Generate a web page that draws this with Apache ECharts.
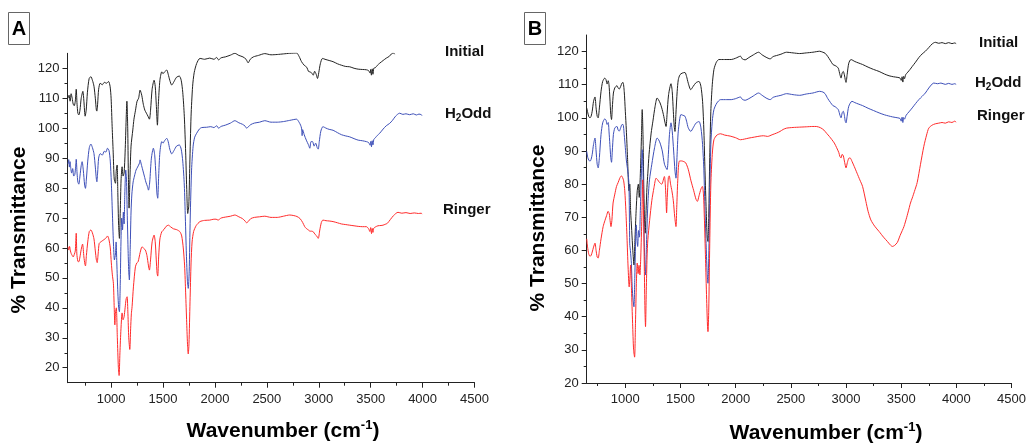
<!DOCTYPE html>
<html><head><meta charset="utf-8">
<script src="https://cdn.jsdelivr.net/npm/echarts@6/dist/echarts.min.js"></script>
<style>html,body{margin:0;padding:0;background:#fff}#c{width:1029px;height:443px}</style>
</head><body><div id="c"></div>
<script>
// ---- axis ticks ----
const xMajor = [1000,1500,2000,2500,3000,3500,4000,4500];
const xMinor = [750,1250,1750,2250,2750,3250,3750,4250];
const yMajor = [20,30,40,50,60,70,80,90,100,110,120];
const yMinor = [25,35,45,55,65,75,85,95,105,115];
const seriesNames = ['Initial','H2Odd','Ringer'];

// ---- Panel A data [wavenumber, %T] ----
const A_initial = [[585,110],[595,111],[605,109],[615,111.5],[625,110],[635,108],[645,107.5],[655,109],[664,113],[672,108],[680,105],[689,104.4],[700,106],[712,110],[728,112.3],[738,109],[750,104],[760,106],[772,112],[788,116.5],[805,117.2],[820,116],[835,114],[848,110],[858,106],[863,105.7],[870,108],[880,113],[895,115],[915,114.5],[935,115.3],[955,115],[975,115.6],[990,114],[1000,110],[1010,100.5],[1020,92],[1030,83],[1042,81.6],[1050,86],[1058,87.7],[1065,78],[1072,68],[1080,63.2],[1088,72],[1096,82.7],[1106,87.1],[1115,84],[1125,85],[1135,92],[1145,103],[1152,109],[1160,100],[1166,85],[1173,73.3],[1182,84],[1192,94],[1209,99.4],[1220,103],[1235,106],[1250,109],[1265,110],[1279,112.7],[1295,111],[1310,108],[1325,106],[1340,105],[1355,104],[1369,103],[1380,106],[1395,113],[1414,116],[1425,114],[1435,108],[1446,101],[1455,108],[1470,116],[1488,118.8],[1500,118.2],[1515,118.8],[1536,119.4],[1550,118],[1565,116],[1584,114.4],[1605,115.5],[1630,117],[1657,117.4],[1675,116],[1690,112],[1705,104],[1718,92],[1728,80],[1738,71.5],[1748,74],[1758,88],[1770,104],[1785,114],[1800,118.5],[1824,121.6],[1856,123.3],[1900,123],[1950,123.4],[1990,123],[2017,123.6],[2035,122.8],[2060,123.5],[2100,123.8],[2150,124.4],[2192,125],[2230,124.3],[2270,123.8],[2300,123],[2320,121.8],[2340,123],[2370,123.8],[2420,124.3],[2480,124.9],[2540,124.5],[2600,124.6],[2660,124.8],[2720,125],[2786,125.1],[2810,124],[2834,122.2],[2860,121],[2885,120.3],[2900,119],[2914,118.8],[2930,118.5],[2947,117.7],[2960,119],[2975,118],[2988,116.6],[3000,118.5],[3015,121.5],[3036,123.3],[3060,123],[3100,122.6],[3138,122.2],[3180,121.5],[3220,121],[3260,120.6],[3298,120.5],[3340,120],[3380,119.7],[3420,119.6],[3459,119.5],[3480,119.2],[3495,118.4],[3500,119.6],[3507,117.7],[3515,119.8],[3522,118],[3530,120],[3545,120.2],[3565,121],[3587,121.7],[3620,122.6],[3651,123.4],[3680,124],[3700,124.8],[3721,125.1],[3730,124.7]];
const A_h2odd = [[585,88],[592,89.5],[598,87],[605,88.8],[612,86.5],[620,85],[630,86.5],[640,84],[650,84.5],[658,87],[664,89.6],[672,85],[680,82],[689,81.3],[700,84],[712,87.5],[721,88.8],[732,86],[745,81],[753,79.9],[762,83],[775,89],[790,93.5],[805,94.7],[820,93.5],[835,91.5],[848,87],[858,83],[863,82.1],[870,85],[880,90],[895,91.5],[915,91],[935,92.3],[950,92],[965,93.3],[980,92.5],[992,89],[1002,82],[1012,72],[1022,62],[1032,56],[1042,58],[1048,62],[1055,55],[1065,45],[1073,40],[1080,38.7],[1088,48],[1095,62],[1102,70],[1110,66],[1118,72],[1125,68],[1132,78],[1141,86],[1148,83],[1155,72],[1163,60],[1170,52],[1176,49.3],[1184,60],[1192,72],[1200,78],[1212,82],[1225,84],[1240,86],[1255,87],[1273,88.3],[1279,89.4],[1290,88],[1305,86],[1320,84],[1335,82],[1350,80.5],[1360,79.3],[1372,82],[1388,90],[1407,93.3],[1420,91],[1432,84],[1442,78],[1449,76.6],[1458,84],[1470,92],[1488,95.5],[1500,95],[1515,95.8],[1536,96.6],[1550,95.5],[1565,93],[1584,91.4],[1605,92.5],[1630,94],[1657,94.4],[1675,93],[1690,89],[1705,81],[1715,70],[1725,58],[1735,49],[1743,46.5],[1752,52],[1762,70],[1775,86],[1790,94],[1805,97],[1824,98.3],[1850,99.7],[1872,100.2],[1920,100.3],[1960,100.5],[1990,100.2],[2017,100.8],[2035,100],[2060,100.6],[2100,101],[2150,101.7],[2192,102.5],[2230,101.8],[2265,101.3],[2290,100.7],[2305,100],[2320,100.4],[2345,101.2],[2380,101.7],[2430,102],[2480,102.5],[2540,102],[2600,102],[2660,102.2],[2720,102.6],[2786,103],[2810,102],[2825,101],[2834,100],[2840,97.5],[2845,99.5],[2860,97.8],[2880,96],[2900,94.5],[2914,93.3],[2925,95.5],[2940,95.5],[2955,94],[2970,95],[2985,93.5],[2995,93],[3005,95.5],[3020,99],[3040,100.5],[3070,100],[3100,99.6],[3138,99.3],[3180,98.5],[3220,97.8],[3260,97.4],[3298,97.1],[3340,96.5],[3380,96],[3420,95.8],[3459,95.5],[3480,95.2],[3495,94.3],[3502,95.6],[3508,93.8],[3515,95.8],[3522,94.4],[3530,96.2],[3545,96.8],[3565,97.6],[3587,98.3],[3620,99.7],[3650,100.8],[3683,101.6],[3710,102.6],[3740,104],[3779,105],[3810,104.6],[3840,104.8],[3875,104.5],[3910,104.8],[3940,104.4],[3965,104.7],[3987,104.5],[3995,104.2]];
const A_ringer = [[585,60.4],[592,59.3],[600,60.5],[608,59],[615,58.2],[625,57.5],[635,57],[645,57.8],[655,59],[664,64.9],[670,58],[680,55.5],[689,55.4],[700,57],[712,59.5],[725,61.3],[738,57],[748,54.5],[753,54],[762,57.5],[775,62],[790,65.5],[805,66],[820,65],[835,63],[848,59],[858,56],[866,55.1],[875,58],[885,61.5],[900,62],[920,62.5],[940,63],[955,63.5],[965,64],[978,63],[992,60],[1002,55],[1012,51],[1022,48.2],[1030,40],[1036,34.3],[1042,38.2],[1050,40],[1060,30],[1070,20],[1077,17.4],[1085,25],[1095,33],[1106,38.3],[1115,36],[1125,37],[1135,40],[1145,43],[1154,43.7],[1162,38],[1170,30],[1180,26.1],[1188,33],[1195,38],[1202,40.4],[1215,47],[1234,53.7],[1248,55],[1260,55.4],[1280,58.5],[1298,60.4],[1315,59.8],[1330,59.3],[1345,57.5],[1360,54],[1369,52.6],[1380,56],[1395,62],[1414,64.3],[1425,62],[1435,56],[1443,51.5],[1449,50.6],[1458,57],[1470,63],[1488,65.4],[1510,66.2],[1530,67.2],[1551,67.6],[1575,67],[1600,66.4],[1632,66.1],[1663,65.4],[1680,64],[1695,60],[1708,54],[1718,45],[1728,35],[1737,27],[1743,24.6],[1750,28],[1760,42],[1770,55],[1780,62],[1795,65.5],[1820,67.5],[1856,68.8],[1900,69.2],[1950,69.3],[1990,69.6],[2011,69.6],[2030,69.3],[2060,70],[2100,70.3],[2150,70.6],[2192,71],[2230,70.4],[2265,69.8],[2290,69],[2305,68.4],[2320,68.8],[2345,69.8],[2380,70.2],[2430,70.4],[2480,70.6],[2540,70.2],[2600,70.2],[2660,70.6],[2721,71],[2760,70.8],[2790,70.5],[2820,69.8],[2845,68.5],[2865,67.1],[2880,66.5],[2900,66],[2915,65.6],[2930,65.6],[2947,65.4],[2965,64.5],[2980,64],[2995,63.2],[3010,66],[3025,68.5],[3040,69.3],[3070,69.1],[3100,69],[3138,68.8],[3180,68.4],[3220,68],[3260,67.8],[3298,67.6],[3340,67.4],[3380,67.2],[3420,67.1],[3459,67.1],[3480,66.4],[3492,65.5],[3500,66.8],[3508,64.8],[3515,66.5],[3522,65.2],[3530,66.6],[3545,67],[3570,67.4],[3600,67.5],[3619,67.6],[3640,67.9],[3660,68.2],[3690,69.5],[3720,70.8],[3763,71.9],[3800,71.6],[3840,71.8],[3880,71.5],[3920,71.7],[3960,71.5],[3987,71.6],[3995,71.3]];

// ---- Panel B data ----
const B_initial = [[650,103],[660,101.5],[670,100.3],[680,100],[690,100.5],[700,102],[712,105],[725,106.3],[735,103],[745,100.5],[754,100],[765,103],[780,108],[795,111],[814,112],[825,111.5],[835,110.2],[845,111.2],[852,110],[860,106],[868,101],[875,99.5],[882,103],[892,107.5],[904,109],[915,109.5],[925,109.7],[935,109],[945,108.7],[958,109.5],[970,110.5],[979,110.7],[990,108],[1000,102],[1009,96.4],[1020,88],[1033,78],[1040,80],[1048,72],[1058,66],[1068,60],[1078,55.6],[1088,64],[1098,72],[1108,78],[1118,80],[1126,76],[1135,82],[1146,94],[1153,102.5],[1160,95],[1167,80],[1175,68],[1180,65.2],[1188,72],[1196,79],[1204,83.3],[1215,89],[1234,95.4],[1250,99],[1270,103.5],[1288,106],[1300,105.5],[1315,104.5],[1330,103],[1345,101],[1360,98.5],[1369,97.4],[1378,101],[1392,107],[1414,110.3],[1425,108],[1435,102],[1443,97.5],[1450,95.9],[1458,101],[1470,108],[1480,111.5],[1495,113],[1515,113.5],[1540,113.7],[1555,112.5],[1570,110.5],[1593,108.5],[1615,109.5],[1640,110.6],[1668,111],[1685,109.5],[1700,105],[1712,96],[1722,84],[1733,72],[1742,64],[1749,62.7],[1756,70],[1765,88],[1775,102],[1788,110],[1803,114.6],[1825,116.8],[1848,117.6],[1900,117.6],[1960,117.6],[2000,118],[2043,118.6],[2060,117.8],[2085,117.5],[2120,118.2],[2160,119],[2207,119.8],[2240,119],[2275,118.3],[2312,117.8],[2340,118.5],[2370,118.8],[2410,119.2],[2461,119.8],[2520,119.6],[2580,119.4],[2640,119.6],[2700,119.8],[2761,120.1],[2790,119.8],[2810,119.5],[2835,118.5],[2860,117.2],[2881,116.1],[2900,115.8],[2915,115.5],[2930,115],[2945,113],[2955,112],[2965,113.5],[2975,114],[2985,113],[2993,111.5],[3000,110.7],[3010,113],[3025,116.5],[3045,117.6],[3080,117],[3110,116.6],[3150,116.1],[3200,115.3],[3250,114.6],[3300,114],[3350,113.2],[3390,112.7],[3430,112.4],[3470,112.2],[3490,112],[3500,111.3],[3508,112.4],[3515,110.8],[3522,112.5],[3530,111.8],[3540,113],[3560,113.8],[3580,114.6],[3600,115.5],[3630,116.8],[3660,118.2],[3690,119.3],[3719,120.1],[3750,121.2],[3780,122.3],[3809,122.8],[3840,122.5],[3870,122.7],[3900,122.4],[3930,122.7],[3960,122.4],[3985,122.6],[3998,122.4]];
const B_h2odd = [[650,89.9],[660,88],[670,87.2],[680,86.9],[690,87.5],[700,89],[712,92],[725,93.9],[735,90],[745,86],[754,84.9],[765,88],[780,95],[795,98.5],[814,99.7],[825,99.3],[835,98],[845,98.6],[852,96],[860,92],[868,88],[875,86.6],[882,90],[892,95],[904,96.9],[915,97.3],[925,97.4],[935,96.3],[945,96],[958,97],[970,98],[979,98],[990,95],[1000,91],[1010,87],[1022,84],[1033,80],[1040,62],[1046,60],[1055,56],[1062,49],[1070,45],[1078,43],[1086,52],[1094,64],[1099,67.7],[1106,63],[1112,61.2],[1120,66],[1128,64],[1136,72],[1146,84],[1153,90.4],[1160,84],[1168,68],[1176,57],[1183,52.6],[1192,62],[1204,74],[1219,81.3],[1240,86],[1265,91],[1288,93.9],[1300,93.5],[1315,92.4],[1335,90],[1355,86],[1378,84.4],[1390,89],[1400,95],[1414,98.5],[1425,96],[1438,90],[1450,84],[1459,81.8],[1468,88],[1480,96],[1504,101],[1520,100.8],[1540,100.5],[1555,99],[1570,97],[1593,95.9],[1615,97],[1640,98.4],[1668,98.9],[1685,97],[1700,92],[1712,84],[1722,72],[1733,61],[1742,53],[1749,50.1],[1756,58],[1765,76],[1775,92],[1788,99],[1803,102.5],[1830,104.5],[1863,105.5],[1920,105.5],[1960,105.5],[2000,105.8],[2043,106.3],[2060,105.6],[2085,105.3],[2120,105.8],[2160,106.6],[2207,107.5],[2240,106.8],[2275,106],[2312,105.5],[2340,106.2],[2370,106.5],[2410,106.8],[2461,107.3],[2520,107],[2580,106.8],[2640,107.2],[2700,107.5],[2761,108],[2790,107.8],[2810,107.3],[2835,105.8],[2860,104.6],[2881,103.7],[2900,103.4],[2915,103],[2930,102.5],[2945,100.8],[2955,100],[2965,101.5],[2975,102],[2985,100.8],[2993,99],[3000,98.5],[3010,100.5],[3025,103.5],[3054,105],[3080,104.6],[3110,104.2],[3150,103.7],[3200,102.9],[3250,102.2],[3300,101.5],[3350,100.9],[3420,100.3],[3470,100],[3490,99.8],[3500,99],[3508,100.2],[3515,98.6],[3522,100.1],[3530,99.6],[3545,100.8],[3570,101.8],[3600,103],[3630,104.3],[3660,105.5],[3690,106.5],[3719,107.5],[3750,109],[3780,110.2],[3795,110.5],[3830,110.3],[3860,110.5],[3900,110.1],[3930,110.4],[3960,110.1],[3985,110.3],[3998,110.1]];
const B_ringer = [[650,63.5],[658,61],[668,59],[680,58.2],[690,58.5],[700,59.5],[712,61],[725,62.2],[735,60],[745,58],[754,57.7],[765,60],[780,63.5],[799,67.2],[815,69],[830,70.5],[844,71.8],[855,71],[862,69],[870,67.2],[878,69],[889,74.3],[905,77],[920,79.3],[935,80.5],[950,81.8],[964,82.5],[975,82],[985,81],[995,78],[1005,72],[1015,64],[1025,55],[1035,49],[1042,52],[1048,55.6],[1056,48],[1066,38],[1075,30],[1084,27.8],[1092,38],[1100,50],[1108,56.2],[1116,53],[1124,55.5],[1132,52.6],[1140,58],[1150,70],[1158,81.3],[1165,72],[1172,55],[1178,42],[1183,37],[1190,48],[1197,58],[1204,63.2],[1220,69],[1240,75],[1260,79],[1279,81.8],[1293,81.3],[1310,80.5],[1330,80],[1354,82.3],[1362,80],[1368,76],[1374,71.3],[1380,76],[1390,82],[1398,82.5],[1410,80],[1422,78],[1435,75],[1448,70],[1459,67.2],[1466,73],[1475,81],[1488,86.9],[1510,87],[1530,86.8],[1548,86.4],[1570,84.5],[1595,81],[1620,78],[1640,75.5],[1653,74.8],[1668,76.5],[1685,78.5],[1698,79.3],[1708,77],[1718,68],[1728,56],[1738,44],[1745,37],[1749,35.5],[1756,42],[1765,62],[1775,80],[1788,89],[1803,93.4],[1830,94.8],[1863,95.2],[1900,94.8],[1950,94.5],[2000,94],[2043,93.4],[2080,93.6],[2120,93.9],[2170,94.2],[2220,94.5],[2252,94.6],[2290,94.4],[2330,94.9],[2370,95.4],[2402,95.9],[2430,96.5],[2461,96.9],[2520,97.1],[2580,97.2],[2640,97.3],[2700,97.4],[2731,97.4],[2770,97],[2800,96.3],[2825,95.3],[2849,94.4],[2870,93.5],[2894,92.4],[2915,91],[2935,89.5],[2945,88.3],[2955,87.9],[2965,89],[2975,88.6],[2988,86.5],[3000,84.9],[3012,86.5],[3025,87.8],[3037,87.9],[3055,86.8],[3075,85.3],[3100,83.3],[3125,81.3],[3150,79.3],[3180,74.8],[3200,71.8],[3225,69.2],[3260,67.3],[3300,65.7],[3340,64],[3375,62.7],[3400,61.7],[3420,61.2],[3440,61.5],[3465,62.4],[3490,64.5],[3510,66],[3525,67.2],[3550,70],[3570,72.5],[3584,74.3],[3600,75.8],[3620,77.8],[3645,80.5],[3675,86],[3705,91.4],[3730,94.8],[3750,96.9],[3780,97.8],[3809,98.2],[3840,98.4],[3870,98.6],[3900,98.4],[3930,98.8],[3960,98.6],[3985,99],[3998,98.7]];

const FONT = 'Liberation Sans';
const colors = ['#222222', '#3d4fb8', '#ff2b2b'];
const plain = v => String(v);

function xAxes(grid, min) {
  return [
    { gridIndex: grid, type: 'value', min: min, max: 4500, position: 'bottom',
      axisLine: { lineStyle: { color: '#222', width: 1 } },
      axisTick: { customValues: xMajor, length: 5, lineStyle: { color: '#222' } },
      axisLabel: { customValues: xMajor, formatter: plain, fontSize: 13, color: '#222', fontFamily: FONT, margin: 10 },
      splitLine: { show: false } },
    { gridIndex: grid, type: 'value', min: min, max: 4500, position: 'bottom',
      axisLine: { show: false },
      axisTick: { customValues: xMinor, length: 3, lineStyle: { color: '#222' } },
      axisLabel: { show: false }, splitLine: { show: false } }
  ];
}
function yAxes(grid, min) {
  return [
    { gridIndex: grid, type: 'value', min: min, max: 125, position: 'left',
      axisLine: { show: true, lineStyle: { color: '#222', width: 1 } },
      axisTick: { show: true, customValues: yMajor, length: 5, lineStyle: { color: '#222' } },
      axisLabel: { customValues: yMajor, formatter: plain, fontSize: 13, color: '#222', fontFamily: FONT, margin: 8 },
      splitLine: { show: false } },
    { gridIndex: grid, type: 'value', min: min, max: 125, position: 'left',
      axisLine: { show: false },
      axisTick: { show: true, customValues: yMinor, length: 3, lineStyle: { color: '#222' } },
      axisLabel: { show: false }, splitLine: { show: false } }
  ];
}
function line(data, xi, yi, ci) {
  return { type: 'line', data: data, xAxisIndex: xi, yAxisIndex: yi, showSymbol: false,
    symbol: 'none', smooth: 0.25, lineStyle: { width: 1, color: colors[ci] },
    itemStyle: { color: colors[ci] }, animation: false, silent: true };
}
function lbl(x, y, name) {
  const t = name === 'H2Odd' ? '{a|H}{s|2}{a|Odd}' : '{a|' + name + '}';
  return { type: 'text', x: x, y: y, style: { text: t, fill: '#111', align: 'left', verticalAlign: 'middle',
    rich: { a: { fontSize: 15, fontWeight: 'bold', fontFamily: FONT, lineHeight: 18, fill: '#111' },
            s: { fontSize: 10, fontWeight: 'bold', fontFamily: FONT, verticalAlign: 'bottom', lineHeight: 18, padding: [8,0,0,0], fill: '#111' } } } };
}
function xTitle(cx, cy) {
  return { type: 'text', x: cx, y: cy, style: { text: '{a|Wavenumber (cm}{s|-1}{a|)}', align: 'center', verticalAlign: 'middle',
    rich: { a: { fontSize: 21, fontWeight: 'bold', fontFamily: FONT, lineHeight: 24, fill: '#000' },
            s: { fontSize: 13, fontWeight: 'bold', fontFamily: FONT, verticalAlign: 'top', lineHeight: 24, padding: [0,0,10,0], fill: '#000' } } } };
}
function yTitle(cx, cy) {
  return { type: 'text', x: cx, y: cy, rotation: Math.PI / 2,
    style: { text: '% Transmittance', align: 'center', verticalAlign: 'middle', fill: '#000',
      font: 'bold 21px "Liberation Sans"' } };
}
function box(x, y, letter) {
  return [
    { type: 'rect', shape: { x: x + 0.5, y: y + 0.5, width: 21, height: 32 }, style: { fill: '#fff', stroke: '#666', lineWidth: 1 } },
    { type: 'text', x: x + 11, y: y + 17, style: { text: letter, align: 'center', verticalAlign: 'middle', fill: '#000', font: 'bold 20px "Liberation Sans"' } }
  ];
}

const chart = echarts.init(document.getElementById('c'), null, { renderer: 'canvas' });
chart.setOption({
  animation: false,
  backgroundColor: '#fff',
  grid: [
    { left: 67.5, top: 53.3, width: 407, height: 329.4 },
    { left: 586.7, top: 35, width: 429.3, height: 348 }
  ],
  xAxis: [...xAxes(0, 580), ...xAxes(1, 650)],
  yAxis: [...yAxes(0, 15), ...yAxes(1, 20)],
  series: [
    line(A_initial, 0, 0, 0), line(A_h2odd, 0, 0, 1), line(A_ringer, 0, 0, 2),
    line(B_initial, 2, 2, 0), line(B_h2odd, 2, 2, 1), line(B_ringer, 2, 2, 2)
  ],
  graphic: [
    ...box(8, 12, 'A'), ...box(524, 12, 'B'),
    lbl(445, 52, seriesNames[0]), lbl(445, 114, seriesNames[1]), lbl(443, 210, seriesNames[2]),
    lbl(979, 43, seriesNames[0]), lbl(975, 83, seriesNames[1]), lbl(977, 116, seriesNames[2]),
    xTitle(283, 431), xTitle(826, 433),
    yTitle(19, 230), yTitle(538, 228)
  ]
});
</script></body></html>
